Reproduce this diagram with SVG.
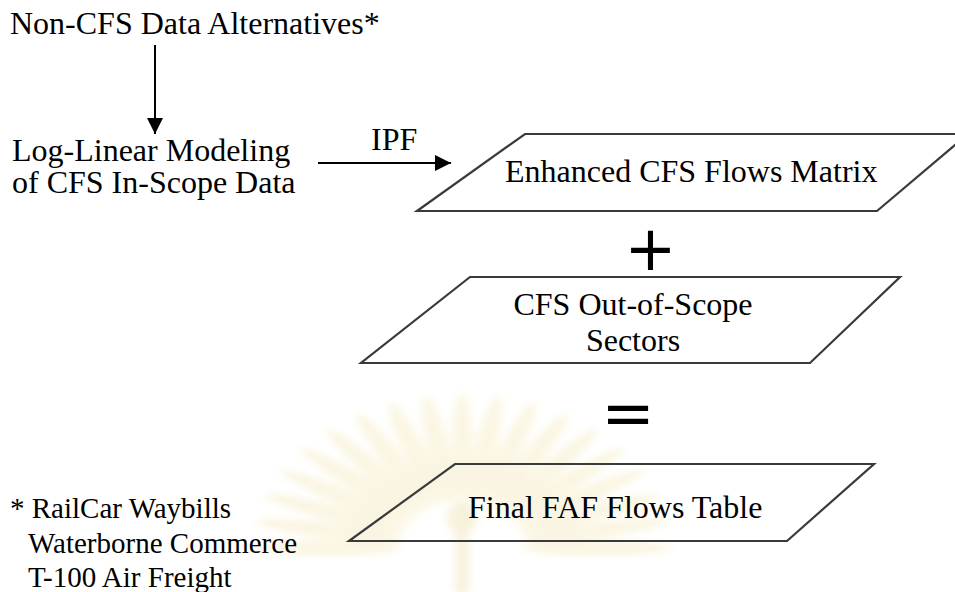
<svg xmlns="http://www.w3.org/2000/svg" width="955" height="592" viewBox="0 0 955 592">
<style>
  .t { font-family: "Liberation Serif", "Times New Roman", serif; font-size: 32px; fill: #000; }
  .f { font-family: "Liberation Serif", "Times New Roman", serif; font-size: 29px; fill: #000; }
  .shape { fill: none; stroke: #3a3a3a; stroke-width: 2.2; stroke-linejoin: miter; }
  .op { font-family: "DejaVu Sans", sans-serif; fill: #000; }
  .edge { stroke: #000; stroke-width: 2; fill: none; }
  .petal { fill: #f6ebc2; }
</style>
<defs>
  <marker id="arrV" markerWidth="16" markerHeight="16" refX="16" refY="8" orient="auto" markerUnits="userSpaceOnUse" viewBox="0 0 16 16">
    <path d="M0,0 L16,8 L0,16 z" fill="#000"/>
  </marker>
  <ellipse id="pt" class="petal" cx="0" cy="-100" rx="8" ry="55"/>
  <filter id="soft" x="-20%" y="-20%" width="140%" height="140%">
    <feGaussianBlur stdDeviation="3"/>
  </filter>
</defs>
<rect width="955" height="592" fill="#fff"/>

<g id="watermark" opacity="0.45" filter="url(#soft)" transform="translate(462,548) scale(1.35,1)">
  <use href="#pt" transform="rotate(-90)"/>
  <use href="#pt" transform="rotate(-80)"/>
  <use href="#pt" transform="rotate(-70)"/>
  <use href="#pt" transform="rotate(-60)"/>
  <use href="#pt" transform="rotate(-50)"/>
  <use href="#pt" transform="rotate(-40)"/>
  <use href="#pt" transform="rotate(-30)"/>
  <use href="#pt" transform="rotate(-20)"/>
  <use href="#pt" transform="rotate(-10)"/>
  <use href="#pt" transform="rotate(0)"/>
  <use href="#pt" transform="rotate(10)"/>
  <use href="#pt" transform="rotate(20)"/>
  <use href="#pt" transform="rotate(30)"/>
  <use href="#pt" transform="rotate(40)"/>
  <use href="#pt" transform="rotate(50)"/>
  <use href="#pt" transform="rotate(60)"/>
  <use href="#pt" transform="rotate(70)"/>
  <use href="#pt" transform="rotate(80)"/>
  <use href="#pt" transform="rotate(90)"/>
  <rect x="-5" y="-25" width="10" height="70" fill="#efe0b0"/>
  <ellipse cx="0" cy="-30" rx="11" ry="16" fill="#efe0b0"/>
</g>

<g id="connectors">
  <line class="edge" x1="155" y1="45" x2="155" y2="134" marker-end="url(#arrV)"/>
  <line class="edge" x1="318" y1="163" x2="451" y2="163" marker-end="url(#arrV)"/>
</g>

<g id="node-noncfs">
  <text class="t" x="10" y="34">Non-CFS Data Alternatives*</text>
</g>

<g id="node-loglinear">
  <text class="t" x="12" y="161">Log-Linear Modeling</text>
  <text class="t" x="12" y="193">of CFS In-Scope Data</text>
</g>

<g id="label-ipf">
  <text class="t" x="371" y="150">IPF</text>
</g>

<g id="node-enhanced">
  <polygon class="shape" points="525,134 968,134 877,211 417,211"/>
  <text class="t" x="505" y="182">Enhanced CFS Flows Matrix</text>
</g>

<g id="op-plus">
  <text class="op" x="650.5" y="270" font-size="62" text-anchor="middle">+</text>
</g>

<g id="node-outofscope">
  <polygon class="shape" points="470,277 900,277 810,363 361,363"/>
  <text class="t" x="633" y="315" text-anchor="middle">CFS Out-of-Scope</text>
  <text class="t" x="633" y="351" text-anchor="middle">Sectors</text>
</g>

<g id="op-equals">
  <text class="op" x="628" y="435" font-size="64" text-anchor="middle">=</text>
</g>

<g id="node-final">
  <polygon class="shape" points="455,464 874,464 787,541 349,541"/>
  <text class="t" x="468" y="518">Final FAF Flows Table</text>
</g>

<g id="footnote">
  <text class="f" x="10" y="518">* RailCar Waybills</text>
  <text class="f" x="28" y="553">Waterborne Commerce</text>
  <text class="f" x="28" y="587">T-100 Air Freight</text>
</g>
</svg>
